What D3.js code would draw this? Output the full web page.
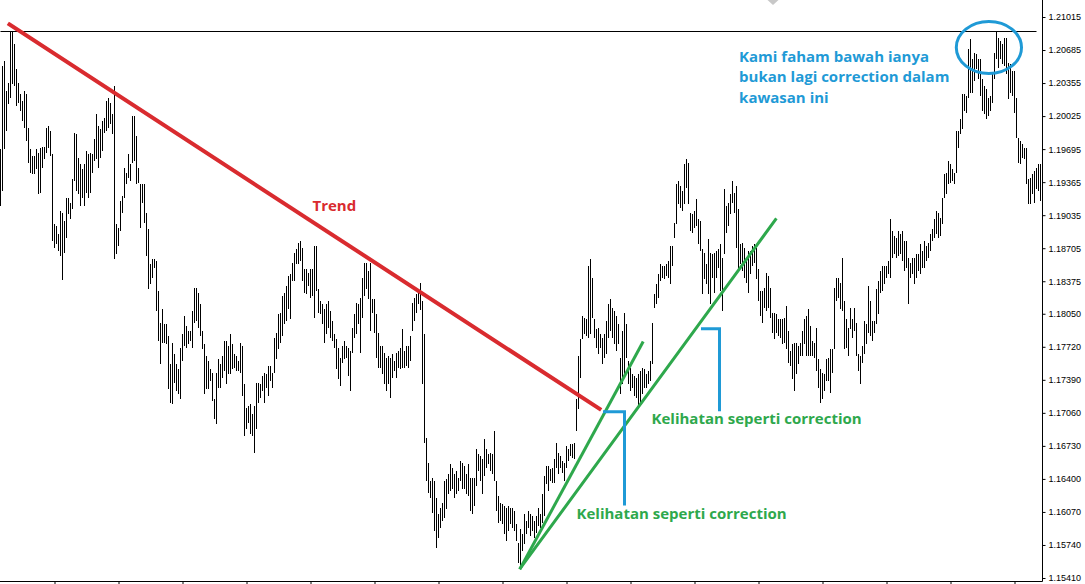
<!DOCTYPE html>
<html>
<head>
<meta charset="utf-8">
<script src="https://d3js.org/d3.v7.min.js"></script>
<style>
  body { margin: 0; background: #fff; }
  #chart text { font-family: "Liberation Sans", Arial, sans-serif; }
  #chart .note { font-family: "Open Sans", sans-serif; font-weight: bold; font-size: 15px; }
</style>
</head>
<body>
<div id="chart"></div>
<script>
// bar highs / lows, one bar per entry, oldest first
var highs = [
  1.1970,1.2053,1.2058,1.2028,1.2036,1.2088,1.2088,1.2075,1.2050,1.2036,
  1.2025,1.2018,1.2028,1.2025,1.1991,1.1970,1.1963,1.1963,1.1970,1.1966,
  1.1971,1.1972,1.1972,1.1991,1.1993,1.1988,1.1965,1.1895,1.1893,1.1885,
  1.1908,1.1906,1.1898,1.1921,1.1921,1.1916,1.1940,1.1986,1.1985,1.1961,
  1.1955,1.1950,1.1955,1.1968,1.1965,1.1966,1.1965,1.1980,1.2005,1.1993,
  1.1990,1.1998,1.2001,1.2018,1.2021,1.2016,1.2005,1.2033,1.1895,1.1891,
  1.1918,1.1923,1.1951,1.1946,1.1965,1.1955,1.2003,1.2003,1.1983,1.1951,
  1.1935,1.1935,1.1935,1.1906,1.1890,1.1855,1.1860,1.1860,1.1858,1.1828,
  1.1796,1.1810,1.1795,1.1795,1.1783,1.1755,1.1776,1.1765,1.1755,1.1750,
  1.1771,1.1785,1.1803,1.1793,1.1788,1.1788,1.1808,1.1831,1.1831,1.1826,
  1.1815,1.1788,1.1775,1.1763,1.1758,1.1750,1.1746,1.1720,1.1746,1.1760,
  1.1755,1.1763,1.1778,1.1778,1.1773,1.1785,1.1775,1.1765,1.1763,1.1758,
  1.1776,1.1773,1.1735,1.1711,1.1713,1.1715,1.1705,1.1713,1.1736,1.1736,
  1.1735,1.1743,1.1746,1.1745,1.1753,1.1753,1.1746,1.1781,1.1786,1.1805,
  1.1806,1.1823,1.1826,1.1833,1.1843,1.1845,1.1856,1.1866,1.1870,1.1876,
  1.1878,1.1871,1.1850,1.1850,1.1846,1.1850,1.1850,1.1873,1.1873,1.1830,
  1.1818,1.1815,1.1810,1.1815,1.1818,1.1808,1.1798,1.1785,1.1780,1.1771,
  1.1761,1.1773,1.1778,1.1773,1.1771,1.1768,1.1791,1.1805,1.1816,1.1815,
  1.1821,1.1841,1.1856,1.1856,1.1848,1.1856,1.1820,1.1820,1.1805,1.1786,
  1.1773,1.1773,1.1766,1.1761,1.1763,1.1761,1.1765,1.1758,1.1766,1.1768,
  1.1771,1.1790,1.1768,1.1773,1.1773,1.1783,1.1816,1.1821,1.1825,1.1828,
  1.1836,1.1818,1.1785,1.1681,1.1656,1.1638,1.1641,1.1638,1.1621,1.1605,
  1.1611,1.1616,1.1638,1.1640,1.1645,1.1655,1.1651,1.1645,1.1648,1.1641,
  1.1658,1.1656,1.1653,1.1645,1.1655,1.1641,1.1641,1.1641,1.1670,1.1665,
  1.1663,1.1660,1.1680,1.1670,1.1665,1.1666,1.1665,1.1688,1.1638,1.1623,
  1.1616,1.1615,1.1613,1.1611,1.1613,1.1611,1.1611,1.1608,1.1595,1.1576,
  1.1590,1.1585,1.1605,1.1598,1.1608,1.1605,1.1603,1.1598,1.1603,1.1611,
  1.1605,1.1625,1.1643,1.1653,1.1653,1.1650,1.1651,1.1660,1.1676,1.1666,
  1.1663,1.1658,1.1656,1.1673,1.1670,1.1675,1.1675,1.1676,1.1720,1.1763,
  1.1780,1.1803,1.1801,1.1800,1.1853,1.1860,1.1841,1.1800,1.1790,1.1791,
  1.1785,1.1781,1.1785,1.1798,1.1815,1.1820,1.1811,1.1808,1.1803,1.1795,
  1.1761,1.1788,1.1806,1.1795,1.1758,1.1751,1.1745,1.1743,1.1741,1.1745,
  1.1748,1.1751,1.1750,1.1745,1.1748,1.1758,1.1796,1.1825,1.1835,1.1845,
  1.1855,1.1853,1.1853,1.1855,1.1858,1.1873,1.1873,1.1896,1.1935,1.1938,
  1.1933,1.1928,1.1955,1.1960,1.1956,1.1906,1.1905,1.1908,1.1920,1.1900,
  1.1898,1.1870,1.1866,1.1855,1.1880,1.1866,1.1865,1.1866,1.1868,1.1870,
  1.1875,1.1861,1.1930,1.1913,1.1916,1.1925,1.1938,1.1926,1.1933,1.1910,
  1.1875,1.1876,1.1871,1.1861,1.1868,1.1868,1.1873,1.1875,1.1871,1.1850,
  1.1828,1.1828,1.1831,1.1846,1.1843,1.1831,1.1806,1.1806,1.1805,1.1800,
  1.1800,1.1800,1.1801,1.1813,1.1788,1.1768,1.1775,1.1776,1.1776,1.1773,
  1.1776,1.1788,1.1800,1.1803,1.1810,1.1793,1.1778,1.1776,1.1791,1.1760,
  1.1750,1.1746,1.1745,1.1760,1.1761,1.1770,1.1770,1.1831,1.1841,1.1841,
  1.1836,1.1861,1.1818,1.1800,1.1791,1.1811,1.1800,1.1811,1.1796,1.1765,
  1.1763,1.1773,1.1798,1.1795,1.1833,1.1818,1.1798,1.1798,1.1830,1.1838,
  1.1848,1.1853,1.1853,1.1853,1.1858,1.1900,1.1888,1.1883,1.1881,1.1888,
  1.1885,1.1888,1.1878,1.1878,1.1861,1.1856,1.1861,1.1861,1.1865,1.1865,
  1.1875,1.1868,1.1878,1.1873,1.1876,1.1885,1.1890,1.1900,1.1908,1.1906,
  1.1901,1.1921,1.1945,1.1946,1.1958,1.1955,1.1950,1.1946,1.1988,1.1988,
  1.2000,1.2025,1.2025,1.2023,1.2070,1.2080,1.2060,1.2066,1.2065,1.2060,
  1.2060,1.2040,1.2033,1.2030,1.2021,1.2023,1.2046,1.2066,1.2088,1.2081,
  1.2078,1.2075,1.2081,1.2081,1.2056,1.2055,1.2048,1.2048,1.2021,1.1981,
  1.1978,1.1975,1.1971,1.1971,1.1940,1.1941,1.1945,1.1948,1.1951,1.1955,
  1.1955
];

var lows = [
  1.1913,1.1928,1.1970,1.1988,1.2015,1.2021,1.2035,1.2033,1.2013,1.2016,
  1.2008,1.1998,1.1991,1.1978,1.1956,1.1946,1.1945,1.1945,1.1950,1.1925,
  1.1926,1.1951,1.1960,1.1966,1.1971,1.1963,1.1878,1.1871,1.1875,1.1868,
  1.1863,1.1839,1.1866,1.1881,1.1905,1.1900,1.1910,1.1938,1.1928,1.1925,
  1.1913,1.1921,1.1913,1.1926,1.1921,1.1926,1.1946,1.1958,1.1960,1.1951,
  1.1961,1.1968,1.1986,1.1988,1.1991,1.1995,1.1985,1.1860,1.1865,1.1873,
  1.1888,1.1906,1.1921,1.1935,1.1941,1.1938,1.1956,1.1958,1.1935,1.1936,
  1.1891,1.1916,1.1896,1.1863,1.1830,1.1835,1.1841,1.1851,1.1808,1.1778,
  1.1755,1.1776,1.1776,1.1775,1.1730,1.1716,1.1715,1.1736,1.1728,1.1725,
  1.1720,1.1758,1.1773,1.1771,1.1775,1.1778,1.1771,1.1796,1.1798,1.1791,
  1.1783,1.1770,1.1725,1.1730,1.1730,1.1738,1.1718,1.1700,1.1695,1.1731,
  1.1731,1.1741,1.1748,1.1735,1.1745,1.1745,1.1750,1.1751,1.1748,1.1748,
  1.1746,1.1723,1.1683,1.1690,1.1696,1.1685,1.1683,1.1666,1.1690,1.1716,
  1.1721,1.1728,1.1716,1.1731,1.1723,1.1738,1.1731,1.1746,1.1760,1.1770,
  1.1776,1.1783,1.1795,1.1798,1.1810,1.1800,1.1838,1.1838,1.1855,1.1855,
  1.1858,1.1838,1.1826,1.1825,1.1833,1.1821,1.1823,1.1801,1.1828,1.1806,
  1.1805,1.1795,1.1776,1.1785,1.1791,1.1781,1.1778,1.1771,1.1750,1.1740,
  1.1733,1.1756,1.1760,1.1761,1.1743,1.1728,1.1766,1.1781,1.1785,1.1795,
  1.1766,1.1801,1.1823,1.1830,1.1820,1.1788,1.1806,1.1786,1.1761,1.1751,
  1.1751,1.1745,1.1735,1.1728,1.1735,1.1721,1.1741,1.1748,1.1741,1.1751,
  1.1750,1.1751,1.1751,1.1753,1.1751,1.1758,1.1788,1.1798,1.1806,1.1815,
  1.1809,1.1735,1.1676,1.1638,1.1626,1.1621,1.1606,1.1588,1.1571,1.1581,
  1.1591,1.1598,1.1601,1.1610,1.1625,1.1628,1.1630,1.1621,1.1625,1.1628,
  1.1638,1.1630,1.1630,1.1625,1.1623,1.1608,1.1605,1.1613,1.1633,1.1648,
  1.1638,1.1625,1.1643,1.1651,1.1655,1.1648,1.1645,1.1638,1.1608,1.1596,
  1.1598,1.1595,1.1585,1.1578,1.1588,1.1595,1.1591,1.1588,1.1578,1.1556,
  1.1551,1.1568,1.1575,1.1585,1.1591,1.1583,1.1588,1.1581,1.1586,1.1593,
  1.1591,1.1596,1.1603,1.1635,1.1628,1.1638,1.1636,1.1636,1.1651,1.1645,
  1.1651,1.1646,1.1638,1.1651,1.1658,1.1663,1.1661,1.1660,1.1688,1.1710,
  1.1741,1.1780,1.1785,1.1783,1.1781,1.1785,1.1801,1.1781,1.1771,1.1765,
  1.1771,1.1755,1.1761,1.1765,1.1781,1.1788,1.1781,1.1775,1.1768,1.1775,
  1.1725,1.1735,1.1741,1.1761,1.1735,1.1728,1.1731,1.1723,1.1721,1.1711,
  1.1716,1.1725,1.1731,1.1731,1.1735,1.1738,1.1755,1.1811,1.1815,1.1821,
  1.1838,1.1841,1.1840,1.1843,1.1841,1.1835,1.1853,1.1881,1.1895,1.1915,
  1.1911,1.1908,1.1915,1.1931,1.1915,1.1888,1.1886,1.1891,1.1893,1.1875,
  1.1868,1.1825,1.1840,1.1835,1.1825,1.1815,1.1841,1.1826,1.1841,1.1851,
  1.1828,1.1808,1.1865,1.1886,1.1893,1.1905,1.1916,1.1906,1.1871,1.1848,
  1.1855,1.1848,1.1841,1.1836,1.1826,1.1845,1.1853,1.1856,1.1840,1.1818,
  1.1803,1.1796,1.1811,1.1808,1.1811,1.1801,1.1786,1.1780,1.1786,1.1783,
  1.1781,1.1775,1.1776,1.1770,1.1756,1.1753,1.1740,1.1728,1.1745,1.1755,
  1.1763,1.1763,1.1775,1.1763,1.1763,1.1763,1.1763,1.1761,1.1748,1.1731,
  1.1716,1.1720,1.1728,1.1738,1.1738,1.1726,1.1746,1.1770,1.1818,1.1821,
  1.1810,1.1808,1.1770,1.1771,1.1763,1.1790,1.1781,1.1788,1.1763,1.1748,
  1.1735,1.1756,1.1765,1.1775,1.1786,1.1783,1.1778,1.1786,1.1795,1.1805,
  1.1826,1.1828,1.1835,1.1841,1.1845,1.1841,1.1861,1.1865,1.1861,1.1863,
  1.1865,1.1858,1.1848,1.1851,1.1815,1.1841,1.1845,1.1835,1.1841,1.1848,
  1.1845,1.1851,1.1851,1.1858,1.1861,1.1868,1.1878,1.1881,1.1885,1.1881,
  1.1883,1.1895,1.1921,1.1925,1.1935,1.1936,1.1938,1.1935,1.1946,1.1971,
  1.1985,1.1990,1.2008,1.2006,1.2021,1.2026,1.2026,1.2038,1.2050,1.2040,
  1.2023,1.2008,1.2005,1.2000,1.2003,1.2008,1.2016,1.2040,1.2060,1.2051,
  1.2060,1.2055,1.2053,1.2045,1.2020,1.2026,1.2023,1.2006,1.1981,1.1956,
  1.1955,1.1961,1.1960,1.1935,1.1915,1.1915,1.1925,1.1916,1.1930,1.1928,
  1.1918
];

var priceTicks = [1.21015, 1.20685, 1.20355, 1.20025, 1.19695, 1.19365, 1.19035, 1.18705, 1.18375,
  1.18050, 1.17720, 1.17390, 1.17060, 1.16730, 1.16400, 1.16070, 1.15740, 1.15410];
var barTicks = [27, 59, 91, 123, 155, 187, 219, 251, 283, 315, 347, 379, 411, 443, 475, 507];

// drawn objects, anchored as [bar, price]
var levelLine = [[0, 1.2088], [518, 1.2088]];
var trendLine = [[4.5, 1.2094], [299.5, 1.1710]];
var greenLines = [
  [[260, 1.1551], [321, 1.1776]],
  [[260, 1.1551], [387.5, 1.1899]]
];
var brackets = [
  [[302, 1.1707], [312, 1.1707], [312, 1.1615]],
  [[351, 1.1790], [359.5, 1.1790], [359.5, 1.1709]]
];
var topCircle = { bar: 494.2, price: 1.2071, bars: 16.3, pips: 0.0026 };
var notes = [
  { lines: ["Trend"], at: [156, 1.1908], color: "#d92b2f" },
  { lines: ["Kelihatan seperti correction"], at: [325.5, 1.1695], color: "#2ea84c" },
  { lines: ["Kelihatan seperti correction"], at: [288, 1.1600], color: "#2ea84c" },
  { lines: ["Kami faham bawah ianya", "bukan lagi correction dalam", "kawasan ini"], at: [369.3, 1.2057], color: "#1f9ad6" }
];

var width = 1085;
var height = 584;
var plotRight = 1042;
var plotBottom = 581;
var noteLeading = 20.5;

var svg = d3.select("#chart").append("svg")
  .attr("width", width).attr("height", height)
  .style("display", "block").style("background", "#fff");

var x = d3.scaleLinear().domain([0, highs.length - 1]).range([0.5, 1040.5]);
var y = d3.scaleLinear().domain([1.15410, 1.21015]).range([578, 17]);

function line(g, points, color, strokeWidth) {
  g.append("path")
    .attr("d", d3.line().x(function(d) { return x(d[0]); }).y(function(d) { return y(d[1]); })(points))
    .attr("fill", "none")
    .attr("stroke", color)
    .attr("stroke-width", strokeWidth)
    .attr("stroke-linecap", "square");
}

// price bars
svg.append("g")
  .attr("shape-rendering", "crispEdges")
  .selectAll("line")
  .data(highs)
  .join("line")
  .attr("x1", function(d, i) { return x(i); })
  .attr("x2", function(d, i) { return x(i); })
  .attr("y1", function(d) { return y(d); })
  .attr("y2", function(d, i) { return y(lows[i]); })
  .attr("stroke", "#000")
  .attr("stroke-width", 1);

// horizontal level
svg.append("line")
  .attr("x1", x(levelLine[0][0])).attr("x2", x(levelLine[1][0]))
  .attr("y1", Math.round(y(levelLine[0][1])) + 0.5).attr("y2", Math.round(y(levelLine[1][1])) + 0.5)
  .attr("stroke", "#000").attr("stroke-width", 1);

// shift marker at the top
svg.append("path")
  .attr("d", "M" + (x(386) - 5) + ",0L" + (x(386) + 6) + ",0L" + (x(386) + 0.5) + ",5Z")
  .attr("fill", "#c8c8c8");

// axes
var yAxis = svg.append("g")
  .attr("transform", "translate(" + (plotRight + 0.5) + ",0)")
  .call(d3.axisRight(y).tickValues(priceTicks).tickSize(3).tickPadding(3).tickFormat(d3.format(".5f")));
yAxis.select(".domain").remove();
yAxis.selectAll("text").attr("font-size", 9).attr("fill", "#000").attr("font-family", "Liberation Sans, Arial, sans-serif");

var xAxis = svg.append("g")
  .attr("transform", "translate(0," + (plotBottom + 0.5) + ")")
  .call(d3.axisBottom(x).tickValues(barTicks).tickSize(3).tickFormat(""));
xAxis.select(".domain").remove();

svg.append("line")
  .attr("x1", plotRight + 0.5).attr("x2", plotRight + 0.5)
  .attr("y1", 0).attr("y2", plotBottom + 0.5)
  .attr("stroke", "#000");
svg.append("line")
  .attr("x1", 0).attr("x2", plotRight + 0.5)
  .attr("y1", plotBottom + 0.5).attr("y2", plotBottom + 0.5)
  .attr("stroke", "#000");

// drawings
var drawings = svg.append("g");
line(drawings, trendLine, "#d92b2f", 4);
greenLines.forEach(function(pts) { line(drawings, pts, "#2ea84c", 3); });
brackets.forEach(function(pts) { line(drawings, pts, "#1f9ad6", 3); });

drawings.append("ellipse")
  .attr("cx", x(topCircle.bar))
  .attr("cy", y(topCircle.price))
  .attr("rx", x(topCircle.bar + topCircle.bars) - x(topCircle.bar))
  .attr("ry", y(topCircle.price - topCircle.pips) - y(topCircle.price))
  .attr("fill", "none")
  .attr("stroke", "#1f9ad6")
  .attr("stroke-width", 3);

drawings.selectAll("text.note")
  .data(notes)
  .join("text")
  .attr("class", "note")
  .attr("x", function(d) { return x(d.at[0]); })
  .attr("y", function(d) { return y(d.at[1]); })
  .attr("fill", function(d) { return d.color; })
  .each(function(d) {
    var t = d3.select(this);
    d.lines.forEach(function(s, k) {
      t.append("tspan")
        .attr("x", x(d.at[0]))
        .attr("dy", k === 0 ? 0 : noteLeading)
        .text(s);
    });
  });
</script>
</body>
</html>
